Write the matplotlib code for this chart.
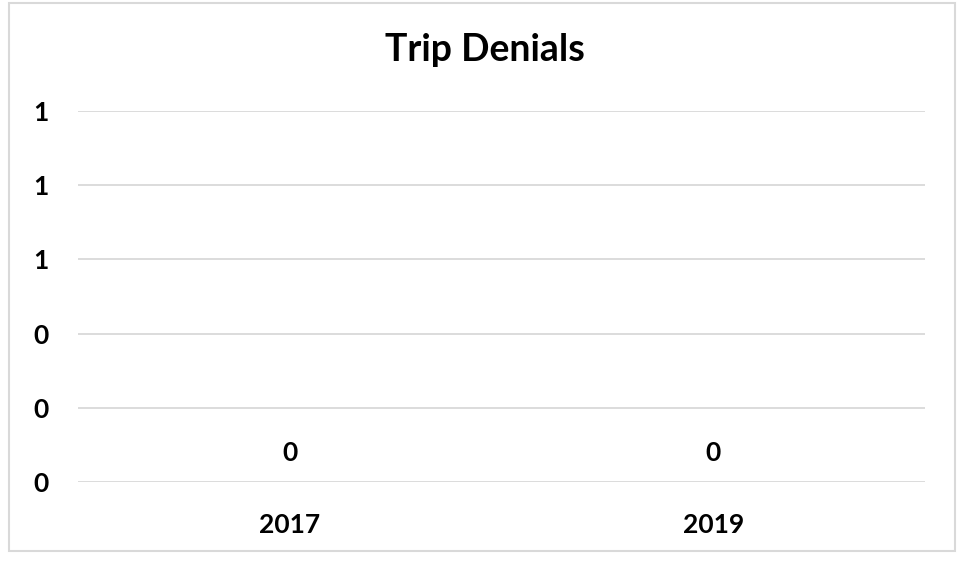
import matplotlib
matplotlib.use("Agg")
import matplotlib.pyplot as plt
from matplotlib.patches import Rectangle

years = ["2017", "2019"]
denials = [0, 0]
ytick_vals = [0, 0.2, 0.4, 0.6, 0.8, 1.0]

plt.rcParams["font.family"] = ["Lato", "DejaVu Sans"]

W, H = 963, 561
fig = plt.figure(figsize=(W / 100, H / 100), dpi=100)
fig.patches.append(Rectangle((9 / W, 1 - 551 / H), 946 / W, 548 / H,
                             transform=fig.transFigure, fill=False,
                             edgecolor="#d9d9d9", linewidth=1.5))

ax = fig.add_axes([78 / W, 1 - 482 / H, 847 / W, 371 / H])
x = range(len(years))
ax.bar(x, denials, width=0.5, color="#4472c4")
ax.set_xlim(-0.5, len(years) - 0.5)
ax.set_ylim(0, 1)
ax.set_yticks(ytick_vals)
ax.set_yticklabels([f"{v:.0f}" for v in ytick_vals])
ax.set_xticks(list(x))
ax.set_xticklabels(years)
for s in ax.spines.values():
    s.set_visible(False)
ax.grid(axis="y", color="#d9d9d9", linewidth=1.3)
ax.set_axisbelow(True)
ax.tick_params(length=0)
ax.tick_params(axis="y", pad=26.5)
ax.tick_params(axis="x", pad=22)
for lab in ax.get_yticklabels():
    lab.set_horizontalalignment("center")
for lab in ax.get_xticklabels() + ax.get_yticklabels():
    lab.set_fontweight("bold")
    lab.set_fontsize(19)

for xi, v in zip(x, denials):
    ax.annotate(f"{v:.0f}", (xi, v), xytext=(0, 21), textcoords="offset points",
                ha="center", va="center", fontsize=19, fontweight="bold")

fig.text(485 / W, 1 - 50 / H, "Trip Denials", ha="center", va="center",
         fontsize=27, fontweight="bold")

fig.savefig("out.png", dpi=100)
